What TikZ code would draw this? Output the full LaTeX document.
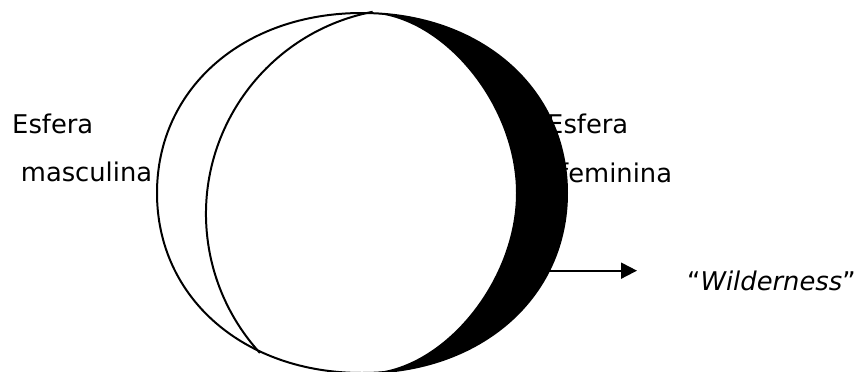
\documentclass[tikz,border=0pt]{standalone}
\usepackage{fontspec}
\setmainfont{DejaVu Sans}
\usetikzlibrary{arrows.meta}

\tikzset{
  lbl/.style={anchor=base west, inner sep=0pt, font=\fontsize{22}{26}\selectfont},
  rim/.style={line width=1.7pt},
}

\begin{document}
\begin{tikzpicture}
\useasboundingbox (0,0) rectangle (25.77,11.13);

% labels (the crescent covers part of the right ones)
\node[lbl] (sfleft) at (0.36,7.14) {Esfera};
\node[lbl] (mascul) at (0.62,5.68) {masculina};
\node[lbl] (sfright) at (16.41,7.14) {Esfera};
\node[lbl] (femin) at (16.77,5.67) {feminina};
\node[lbl] (wild) at (20.61,2.43) {“\textit{Wilderness}”};

% dark crescent
\fill (10.86,10.74) .. controls (14.427,10.74) and (17.01,8.472) .. (17.01,5.34)
  .. controls (17.01,2.208) and (14.427,-0.06) .. (10.86,-0.06)
  -- (10.95,-0.06) .. controls (13.215,-0.06) and (15.48,2.64) .. (15.48,5.34)
  .. controls (15.48,8.04) and (13.215,10.74) .. (10.95,10.74) -- cycle;

% sphere outline and inner arc
\draw[rim] (4.71,5.34) .. controls (4.71,8.472) and (7.293,10.74) .. (10.86,10.74)
  .. controls (14.427,10.74) and (17.01,8.472) .. (17.01,5.34)
  .. controls (17.01,2.208) and (14.427,-0.06) .. (10.86,-0.06)
  .. controls (7.293,-0.06) and (4.71,2.208) .. (4.71,5.34) -- cycle;
\draw[rim] (12.36,4.71) ++(101:6.18) arc[start angle=101, end angle=222.4, radius=6.18];

% arrow to wilderness
\coordinate (arrowfrom) at (16.39,3.01);
\coordinate (arrowto) at (19.11,3.01);
\draw[line width=1.6pt, -{Triangle[length=0.48cm, width=0.48cm]}] (arrowfrom) -- (arrowto);

\end{tikzpicture}
\end{document}
